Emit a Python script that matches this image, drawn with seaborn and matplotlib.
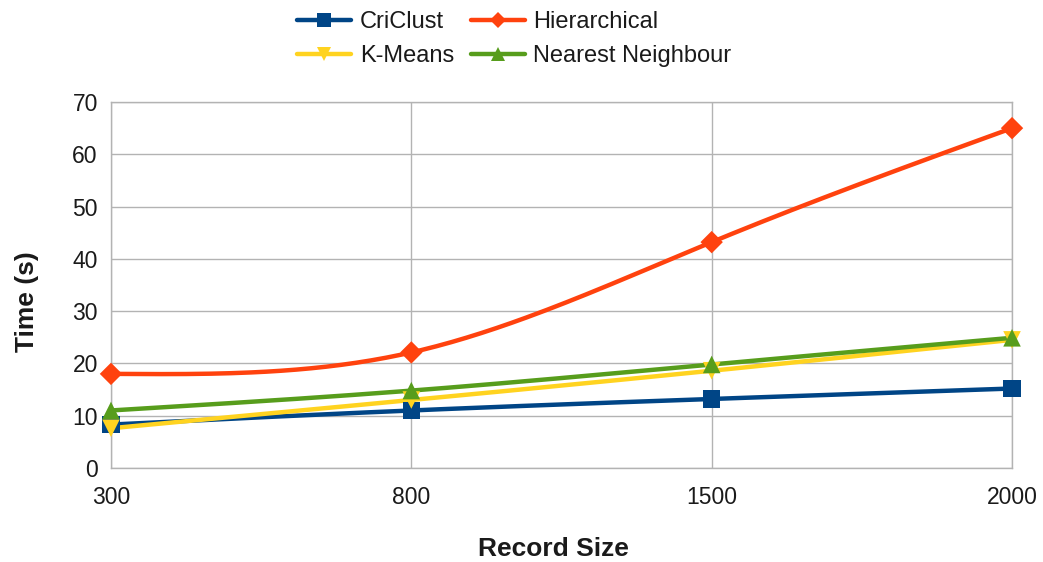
import numpy as np
import pandas as pd
import matplotlib
matplotlib.use("Agg")
import matplotlib.pyplot as plt
from matplotlib.lines import Line2D
import seaborn as sns

# Runtime (seconds) of each clustering method by record size
record_sizes = ["300", "800", "1500", "2000"]
criclust = [8.3, 11.0, 13.2, 15.2]
hierarchical = [18.0, 22.1, 43.2, 65.0]
kmeans = [7.6, 13.0, 18.6, 24.5]
nearest_neighbour = [11.0, 14.8, 19.8, 24.9]

series_names = ["CriClust", "Hierarchical", "K-Means", "Nearest Neighbour"]
series_values = [criclust, hierarchical, kmeans, nearest_neighbour]
colors = ["#004586", "#ff420e", "#ffd320", "#579d1c"]
markers = ["s", "D", "v", "^"]
marker_sizes = [160, 130, 160, 160]


def natural_spline(y, samples=60):
    """Natural cubic spline through equally spaced points, for smooth lines."""
    y = np.asarray(y, dtype=float)
    n = len(y)
    x = np.arange(n, dtype=float)
    A = np.zeros((n, n))
    b = np.zeros(n)
    A[0, 0] = A[-1, -1] = 1.0
    for i in range(1, n - 1):
        A[i, i - 1], A[i, i], A[i, i + 1] = 1.0, 4.0, 1.0
        b[i] = 6.0 * (y[i + 1] - 2 * y[i] + y[i - 1])
    m = np.linalg.solve(A, b)
    xs, ys = [], []
    for i in range(n - 1):
        t = np.linspace(0, 1, samples, endpoint=(i == n - 2))
        a = 1 - t
        seg = a * y[i] + t * y[i + 1] + ((a**3 - a) * m[i] + (t**3 - t) * m[i + 1]) / 6.0
        xs.append(x[i] + t)
        ys.append(seg)
    return np.concatenate(xs), np.concatenate(ys)


rows = []
for name, vals in zip(series_names, series_values):
    for i, v in enumerate(vals):
        rows.append({"pos": i, "size": record_sizes[i], "time": v, "method": name})
df = pd.DataFrame(rows)

sns.set_theme(style="white")
plt.rcParams["font.family"] = ["Liberation Sans", "DejaVu Sans"]

fig = plt.figure(figsize=(10.43, 5.62), dpi=100)
ax = fig.add_axes([0.1064, 0.1673, 0.8639, 0.6512])

grid_color = "#b3b3b3"
text_color = "#1a1a1a"

# Smoothed lines
for name, vals, c in zip(series_names, series_values, colors):
    xs, ys = natural_spline(vals)
    ax.plot(xs, ys, color=c, lw=3.2, solid_capstyle="butt", zorder=3, clip_on=False)

# Data point markers
sns.scatterplot(
    data=df, x="pos", y="time", hue="method", style="method",
    hue_order=series_names, style_order=series_names,
    palette=dict(zip(series_names, colors)),
    markers=dict(zip(series_names, markers)),
    size="method", sizes=dict(zip(series_names, marker_sizes)),
    linewidth=0, legend=False, ax=ax, zorder=4, clip_on=False,
)

ax.set_xlim(0, 3)
ax.set_ylim(0, 70)
ax.set_xticks(range(len(record_sizes)))
ax.set_xticklabels(record_sizes)
ax.set_yticks(np.arange(0, 71, 10))

for s in ax.spines.values():
    s.set_visible(True)
    s.set_color(grid_color)
    s.set_linewidth(1.0)
    s.set_zorder(1)
ax.grid(True, color=grid_color, lw=1.0)
ax.set_axisbelow(True)
ax.tick_params(axis="both", which="both", length=6, width=1.0, color=grid_color,
               labelsize=16.5, labelcolor=text_color)
ax.tick_params(axis="y", pad=3.5)
ax.tick_params(axis="x", length=7, pad=6)

ax.set_xlabel("Record Size", fontsize=19, fontweight="bold", labelpad=20, color=text_color)
ax.set_ylabel("Time (s)", fontsize=19, fontweight="bold", labelpad=24, color=text_color)
ax.xaxis.label.set_x(0.4906)
ax.yaxis.label.set_y(0.4536)

handles = [
    Line2D([0], [0], color=c, lw=3.2, marker=m, markersize=10 if m != "D" else 8,
           markeredgewidth=0)
    for c, m in zip(colors, markers)
]
# two columns, filled column-wise: CriClust/K-Means then Hierarchical/Nearest Neighbour
order = [0, 2, 1, 3]
fig.legend([handles[i] for i in order], [series_names[i] for i in order],
           loc="upper center", bbox_to_anchor=(0.493, 1.018),
           ncol=2, frameon=False, fontsize=17, handlelength=2.3,
           columnspacing=0.7, handletextpad=0.35, labelspacing=0.5,
           labelcolor=text_color)

fig.savefig("out.png", dpi=100)
